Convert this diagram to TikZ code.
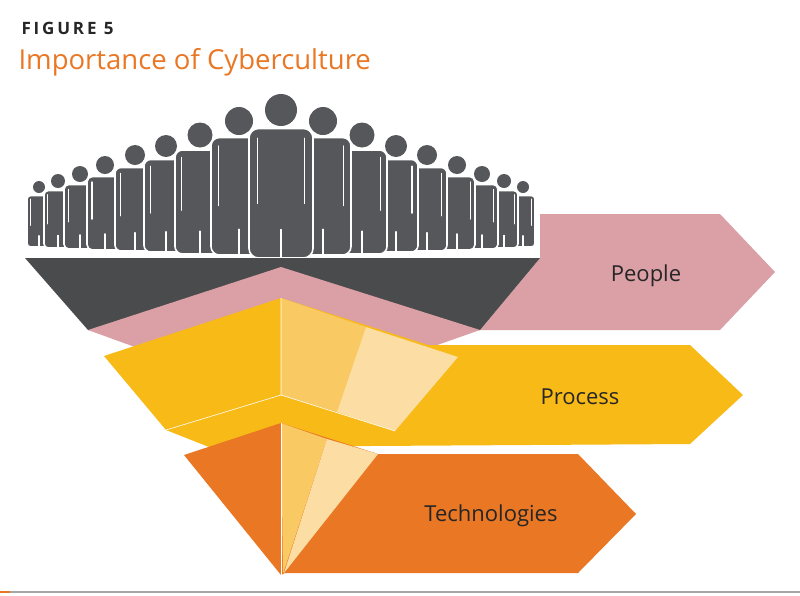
\documentclass[tikz,border=0pt]{standalone}
\usepackage{fontspec}
\setmainfont{Open Sans}
\definecolor{pgray}{HTML}{55575A}
\definecolor{dgray}{HTML}{4A4B4D}
\definecolor{cpink}{HTML}{DBA0A6}
\definecolor{cyel}{HTML}{F8BA16}
\definecolor{cl1}{HTML}{F9C964}
\definecolor{cl2}{HTML}{FCDEA5}
\definecolor{corg}{HTML}{E97724}
\newcommand\myperson[4]{% x, headY, r, bottom
  \pgfmathsetmacro\pw{2.0*#3}
  \pgfmathsetmacro\pt{#2+#3+2.5}
  \pgfmathsetmacro\pa{#3*0.6}
  \pgfmathsetmacro\parm{\pt+0.58*(#4-\pt)}
  \pgfmathsetmacro\pleg{#4-0.22*(#4-\pt)}
  \fill[white] (#1,#2) circle ({#3+1.5});
  \fill[pgray] (#1,#2) circle (#3);
  \draw[white,line width=1.6pt,fill=pgray,rounded corners=\pa pt] (#1-\pw,#4) -- (#1-\pw,\pt) -- (#1+\pw,\pt) -- (#1+\pw,#4) -- cycle;
  \draw[white,line width=1.1pt,line cap=round] (#1-\pw+0.55*#3,\pt+0.6*#3) -- (#1-\pw+0.55*#3,\parm);
  \draw[white,line width=1.1pt,line cap=round] (#1+\pw-0.55*#3,\pt+0.6*#3) -- (#1+\pw-0.55*#3,\parm);
  \draw[white,line width=1.1pt,line cap=round] (#1,#4) -- (#1,\pleg);
}
\begin{document}
\begin{tikzpicture}[x=1pt,y=-1pt]
\useasboundingbox (0,0) rectangle (800,595);
\tikzset{lbl/.style={font=\fontsize{22}{26}\selectfont,text=black!85}}
% people
\foreach \o/\hy/\r/\b in {242/187/6/247,223/181/7/248,201/174/8/249,176/165/9/250,146/155/10/251,115/146/11/252,81/135/12.5/254,42/121/14/255}{
  \myperson{281-\o}{\hy}{\r}{\b}
  \myperson{281+\o}{\hy}{\r}{\b}
}
\myperson{281}{110}{16}{258}
% people arrow
\fill[cpink] (540,214) -- (720,214) -- (775,272) -- (720,330) -- (480,330) -- (540,258) -- cycle;
\fill[dgray] (25,258) -- (540,258) -- (480,330) -- (88,330) -- cycle;
\fill[cpink] (88,330) -- (281,267) -- (480,330) -- (281,400) -- cycle;
% process
\fill[cyel] (104,356) -- (281,298) -- (428,345) -- (690,345) -- (743,395) -- (690,444) -- (209,447) -- (166,430) -- cycle;
\fill[cl1] (281,298) -- (366,327) -- (337,412) -- (281,395) -- cycle;
\fill[cl2] (366,327) -- (458,357) -- (395,431) -- (337,412) -- cycle;
\draw[white,line width=0.6pt] (281,298) -- (281,395) -- (166,430);
\draw[white,line width=0.6pt] (281,395) -- (395,431);
% technologies
\fill[corg] (184,455) -- (281,423) -- (378,454) -- (578,454) -- (636,514) -- (578,573) -- (285,573) -- (281,575) -- cycle;
\fill[cl1] (281,423) -- (327,439) -- (283,574) -- cycle;
\fill[cl2] (327,439) -- (378,454) -- (284,573) -- cycle;
\draw[white,line width=0.6pt] (281,423) -- (281,575);
% labels
\node[lbl] (pp) at (646,276) {People};
\node[lbl] (pr) at (580,397) {Process};
\node[lbl] (te) at (491,516) {Technologies};
% title
\node[anchor=west,font=\bfseries\fontsize{17}{20}\selectfont,text=black!85] (fig) at (18,28) {F\,I\,G\,U\,R\,E\, 5};
\node[anchor=west,font=\fontsize{27.5}{32}\selectfont,text=corg] (tt) at (15,62) {Importance of Cyberculture};
% bottom line
\fill[gray!70] (0,591) rectangle (800,593);
\fill[corg] (0,591) rectangle (10,593);
\end{tikzpicture}
\end{document}
